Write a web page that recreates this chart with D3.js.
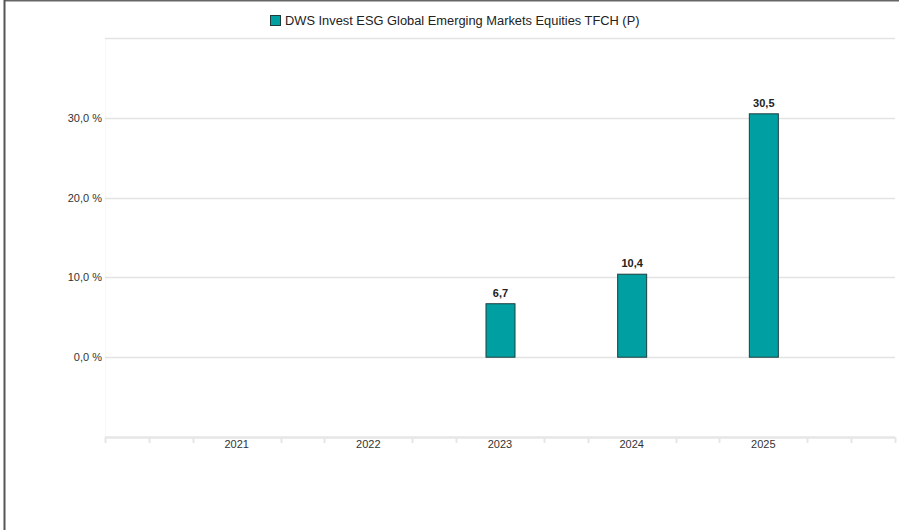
<!DOCTYPE html>
<html>
<head>
<meta charset="utf-8">
<script src="https://cdn.jsdelivr.net/npm/d3@7"></script>
<style>
  html, body { margin: 0; padding: 0; background: #fff; }
  svg { display: block; }
  text { font-family: "Liberation Sans", Arial, sans-serif; }
</style>
</head>
<body>
<svg id="chart" width="899" height="530"></svg>
<script>
const categories = ["2021", "2022", "2023", "2024", "2025"];
const seriesName = "DWS Invest ESG Global Emerging Markets Equities TFCH (P)";
const values = [null, null, 6.7, 10.4, 30.5];
const valueLabels = ["", "", "6,7", "10,4", "30,5"];
const yTicks = [0, 10, 20, 30];
const yTickLabels = ["0,0 %", "10,0 %", "20,0 %", "30,0 %"];

const svg = d3.select("#chart");
const W = 899, H = 530;

// frame borders
svg.append("line").attr("x1", 4).attr("x2", W).attr("y1", 0.5).attr("y2", 0.5)
  .attr("stroke", "#666").attr("stroke-width", 2);
svg.append("line").attr("x1", 4.5).attr("x2", 4.5).attr("y1", 0).attr("y2", H)
  .attr("stroke", "#555").attr("stroke-width", 2);

const left = 105, right = 895;
const x = d3.scaleLinear().domain([0, categories.length + 1]).range([left, right]);
const y = d3.scaleLinear().domain([-10, 40]).range([437, 38]);

// faint vertical line at plot left
svg.append("line").attr("x1", left + 0.5).attr("x2", left + 0.5).attr("y1", 38).attr("y2", 437)
  .attr("stroke", "#f8f8f8").attr("stroke-width", 1);

// gridlines
const gridVals = [0, 10, 20, 30, 40];
svg.append("g").selectAll("line").data(gridVals).join("line")
  .attr("x1", left).attr("x2", right)
  .attr("y1", d => Math.round(y(d)) + 0.5).attr("y2", d => Math.round(y(d)) + 0.5)
  .attr("stroke", "#e3e3e3").attr("stroke-width", 1.5);

// y labels
svg.append("g").selectAll("text").data(yTicks).join("text")
  .attr("x", 102).attr("y", d => y(d) + 4)
  .attr("text-anchor", "end").attr("font-size", 11).attr("fill", "#333")
  .text((d, i) => yTickLabels[i]);

// x axis line
svg.append("line").attr("x1", left).attr("x2", right).attr("y1", 437.5).attr("y2", 437.5)
  .attr("stroke", "#e6e6e6").attr("stroke-width", 2.5);
const minorTicks = d3.range(0, 3 * (categories.length + 1) + 1)
  .filter(k => k % 3 !== 0 || k === 0 || k === 3 * (categories.length + 1))
  .map(k => k / 3);
svg.append("g").selectAll("line").data(minorTicks).join("line")
  .attr("x1", d => Math.round(x(d)) + 0.5).attr("x2", d => Math.round(x(d)) + 0.5)
  .attr("y1", 437).attr("y2", 443)
  .attr("stroke", "#e6e6e6").attr("stroke-width", 2);

// x labels
svg.append("g").selectAll("text").data(categories).join("text")
  .attr("x", (d, i) => x(i + 1)).attr("y", 448)
  .attr("text-anchor", "middle").attr("font-size", 11).attr("fill", "#333")
  .text(d => d);

// bars
const barW = 29;
const barData = categories.map((c, i) => ({ c, i, v: values[i], label: valueLabels[i] }))
  .filter(d => d.v !== null);
svg.append("g").selectAll("rect").data(barData).join("rect")
  .attr("x", d => x(d.i + 1) - barW / 2 + 0.5)
  .attr("y", d => y(d.v))
  .attr("width", barW)
  .attr("height", d => y(0) - y(d.v))
  .attr("fill", "#00a0a2")
  .attr("stroke", "#1e3c3c").attr("stroke-width", 1);

svg.append("g").selectAll("text").data(barData).join("text")
  .attr("x", d => x(d.i + 1) + 0.5).attr("y", d => y(d.v) - 7)
  .attr("text-anchor", "middle").attr("font-size", 11).attr("font-weight", "bold")
  .attr("fill", "#222")
  .text(d => d.label);

// legend
svg.append("rect").attr("x", 270.5).attr("y", 15.5).attr("width", 10).attr("height", 10)
  .attr("fill", "#00a0a2").attr("stroke", "#1e3c3c").attr("stroke-width", 1);
svg.append("text").attr("x", 285).attr("y", 25).attr("font-size", 12.85).attr("fill", "#222")
  .text(seriesName);
</script>
</body>
</html>
